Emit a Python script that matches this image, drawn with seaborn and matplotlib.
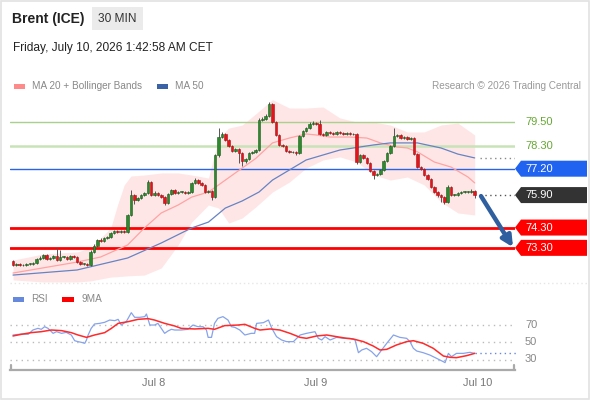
import matplotlib
matplotlib.use("Agg")
import matplotlib.pyplot as plt
from matplotlib.patches import Polygon, Rectangle
import seaborn as sns

# ---- data (30 min candles, Brent ICE) ----
closes = [
    72.45, 72.50, 72.45, 72.45, 72.50, 72.50, 72.55, 72.75, 72.80, 72.95,
    72.75, 72.80, 72.90, 72.70, 72.85, 72.85, 72.75, 72.90, 72.85, 72.60,
    72.50, 72.50, 72.45, 73.10, 73.40, 73.70, 73.65, 73.80, 73.85, 74.05,
    74.15, 74.10, 74.15, 74.10, 74.90, 75.90, 75.65, 75.75, 75.90, 76.00,
    76.55, 75.90, 76.00, 75.90, 75.80, 75.50, 75.95, 76.15, 76.00, 76.05,
    76.05, 76.00, 76.05, 76.50, 76.65, 76.50, 76.40, 76.05, 76.10, 75.80,
    77.85, 78.75, 78.90, 78.60, 78.30, 78.05, 78.15, 77.95, 77.60, 77.70,
    77.95, 78.00, 78.10, 79.60, 79.65, 79.80, 80.40, 79.50, 78.85, 78.35,
    78.30, 78.05, 78.00, 78.00, 77.95, 78.80, 79.05, 79.20, 79.40, 79.45,
    79.40, 78.90, 78.85, 79.00, 78.95, 78.90, 79.00, 78.95, 78.90, 78.95,
    78.90, 78.90, 77.55, 77.85, 77.75, 77.50, 77.10, 76.90, 76.95, 77.15,
    77.60, 77.95, 78.30, 78.80, 78.85, 78.70, 78.75, 78.65, 78.70, 77.90,
    77.30, 77.20, 76.90, 76.70, 76.30, 76.05, 75.90, 75.80, 75.55, 76.30,
    75.90, 75.90, 76.00, 76.05, 76.05, 76.05, 76.10, 75.90,
]
first_open = 72.65
upper_wick = [
    .05, .05, .05, .05, .05, .05, .05, .05, .08, .05,
    .05, .05, .05, .40, .35, .05, .05, .05, .05, .05,
    .05, .05, .05, .08, .10, .05, .08, .05, .05, .05,
    .05, .05, .05, .05, .05, .25, .05, .08, .05, .05,
    .10, .05, .08, .05, .05, .05, .05, .05, .05, .05,
    .05, .05, .05, .05, .08, .05, .05, .05, .05, .05,
    .05, .45, .10, .05, .05, .05, .05, .05, .05, .05,
    .05, .05, .05, .10, .08, .10, .10, .05, .05, .05,
    .05, .05, .05, .05, .05, .05, .05, .05, .08, .10,
    .05, .20, .08, .05, .05, .05, .05, .05, .05, .05,
    .05, .05, .05, .05, .05, .05, .05, .05, .05, .05,
    .05, .05, .05, .40, .05, .05, .05, .05, .05, .05,
    .05, .05, .05, .05, .05, .05, .05, .05, .05, .10,
    .05, .05, .05, .05, .05, .05, .10, .05,
]
lower_wick = [
    .05, .05, .05, .05, .05, .05, .05, .05, .05, .05,
    .05, .05, .05, .05, .05, .05, .05, .05, .05, .05,
    .05, .05, .05, .05, .05, .05, .05, .05, .05, .05,
    .05, .05, .05, .05, .05, .05, .20, .05, .05, .05,
    .05, .05, .05, .05, .05, .10, .05, .05, .05, .05,
    .05, .05, .05, .05, .05, .05, .05, .05, .05, .12,
    .05, .05, .05, .05, .05, .05, .05, .45, .25, .10,
    .05, .05, .05, .05, .05, .05, .05, .05, .05, .05,
    .05, .05, .05, .05, .10, .05, .05, .05, .05, .05,
    .05, .05, .05, .05, .05, .05, .05, .05, .05, .05,
    .05, .05, .10, .05, .05, .05, .05, .20, .05, .05,
    .05, .05, .05, .05, .05, .05, .05, .05, .05, .05,
    .05, .05, .05, .05, .05, .05, .10, .25, .10, .05,
    .05, .05, .05, .05, .05, .05, .05, .15,
]

# bollinger band / moving averages at candle index
band_idx = [0, 9, 19, 23, 29, 31, 33, 35, 39, 44, 49, 53, 58, 61, 64, 68,
            72, 77, 82, 87, 92, 97, 102, 107, 112, 117, 122, 127, 132, 137]
band_up = [72.70, 73.00, 73.10, 73.29, 74.28, 75.41, 76.40, 76.84, 76.89,
           76.99, 76.99, 76.89, 76.74, 78.71, 79.20, 79.35, 79.90, 80.60,
           80.19, 80.19, 80.24, 79.70, 79.50, 79.50, 79.35, 79.01, 79.01,
           79.35, 79.45, 78.86]
band_lo = [71.72, 71.62, 71.62, 71.67, 71.86, 71.88, 71.91, 71.93, 71.96,
           72.31, 73.44, 74.57, 75.41, 75.26, 74.52, 74.77, 75.31, 76.05,
           76.54, 77.23, 77.63, 77.78, 77.53, 76.89, 76.64, 76.79, 76.40,
           75.56, 75.02, 74.92]
ma20_idx = [0, 19, 26, 34, 39, 44, 49, 53, 58, 61, 68, 72, 77, 82, 87, 90,
            94, 100, 105, 109, 114, 117, 120, 125, 130, 135, 137]
ma20_val = [72.06, 72.60, 72.85, 73.44, 74.28, 75.02, 75.41, 75.80, 76.05,
            76.40, 77.23, 77.70, 78.47, 78.71, 78.91, 78.86, 78.76, 78.76,
            78.71, 78.47, 78.27, 78.22, 78.03, 77.53, 77.28, 76.79, 76.50]
ma50_idx = [0, 19, 34, 44, 53, 58, 63, 68, 73, 77, 87, 97, 107, 112, 120,
            127, 132, 137]
ma50_val = [71.96, 72.21, 72.80, 73.54, 74.28, 74.57, 75.26, 75.61, 76.05,
            76.64, 77.63, 78.12, 78.37, 78.47, 78.47, 78.22, 77.92, 77.73]

# RSI and its 9 period MA
rsi_idx = [0, 2.5, 4.5, 5.9, 7.4, 8.4, 9.4, 10.4, 11.9, 12.9, 14.4, 15.8,
           17.3, 18.3, 19.3, 20.3, 21.3, 21.8, 22.3, 23.2, 24.2, 25.7, 27.2,
           28.7, 30.2, 31.2, 32.1, 33.6, 35.1, 36.1, 37.6, 39.1, 39.6, 40.6,
           42.0, 43.0, 44.0, 45.0, 46.0, 47.0, 48.0, 49.9, 51.9, 53.4, 54.9,
           56.4, 57.4, 57.9, 58.9, 59.8, 60.8, 62.3, 63.8, 64.8, 65.8, 67.3,
           68.8, 70.7, 71.7, 72.3, 74.3, 75.8, 76.8, 78.2, 79.7, 81.2, 83.2,
           85.2, 87.1, 89.6, 90.6, 91.6, 92.6, 94.1, 96.0, 98.0, 100.0,
           101.5, 102.5, 103.5, 104.9, 106.4, 107.9, 109.4, 110.9, 112.9,
           114.8, 116.8, 117.8, 118.8, 119.8, 121.7, 123.7, 125.7, 127.7,
           128.2, 129.2, 130.1, 131.6, 133.6, 135.6, 137.0]
rsi_val = [58.0, 59.1, 58.8, 63.7, 65.6, 64.5, 67.5, 65.6, 59.9, 61.8, 59.9,
           61.0, 58.0, 51.5, 50.4, 49.6, 48.5, 52.3, 58.0, 65.6, 70.6, 71.3,
           72.5, 75.1, 74.4, 75.9, 69.4, 73.2, 83.5, 78.2, 78.2, 79.0, 82.0,
           69.4, 69.4, 71.3, 65.6, 59.9, 62.6, 64.5, 63.7, 63.7, 64.5, 69.4,
           67.5, 67.5, 63.7, 55.3, 55.3, 71.3, 77.0, 79.0, 75.1, 67.5, 66.8,
           63.7, 58.0, 59.9, 59.9, 71.3, 72.1, 75.1, 65.6, 56.1, 52.3, 50.4,
           50.4, 58.0, 59.9, 61.8, 54.2, 52.3, 56.1, 52.3, 55.3, 54.2, 54.2,
           52.3, 37.8, 40.9, 42.8, 39.0, 33.2, 40.9, 48.5, 58.0, 55.3, 54.2,
           50.4, 42.8, 39.7, 37.8, 35.1, 31.3, 27.5, 26.4, 37.0, 33.2, 37.0,
           37.0, 38.2, 37.0]
rsi_ma_idx = [0, 2.5, 5.4, 8.4, 11.4, 14.4, 17.3, 19.3, 21.8, 24.2, 27.2,
              29.2, 31.2, 34.1, 37.1, 40.1, 42.0, 45.0, 48.0, 49.9, 53.9,
              57.9, 59.8, 62.8, 66.8, 68.8, 71.7, 73.3, 76.3, 79.2, 82.2,
              85.2, 87.1, 90.1, 93.1, 96.0, 99.0, 101.0, 104.0, 106.9, 108.9,
              110.9, 113.8, 116.8, 118.8, 121.7, 124.7, 127.7, 129.7, 131.6,
              134.6, 137.0]
rsi_ma_val = [56.9, 58.8, 60.7, 61.8, 63.7, 63.0, 60.7, 58.0, 55.3, 58.0,
              60.7, 65.6, 71.3, 73.2, 75.9, 76.7, 75.1, 71.3, 68.3, 65.6,
              64.9, 65.6, 64.5, 68.7, 69.4, 70.2, 65.6, 63.7, 64.9, 63.7,
              59.9, 55.3, 54.2, 56.9, 58.0, 56.1, 54.2, 53.4, 50.4, 45.4,
              40.9, 41.6, 46.6, 50.4, 51.5, 48.5, 42.8, 34.0, 32.5, 32.1,
              34.4, 37.0]
rsi_levels = [70, 50, 30]

levels = [79.50, 78.30, 77.20, 74.30, 73.30]
level_kind = ["res", "res", "pivot", "sup", "sup"]
last_price = 75.90
target = 73.30
day_labels = ["Jul 8", "Jul 9", "Jul 10"]
day_pos = [41.8, 89.8, 137.8]

# ---- styling ----
sns.set_theme(style="white")
plt.rcParams["font.family"] = ["Liberation Sans", "DejaVu Sans"]

W, H = 590, 400
fig = plt.figure(figsize=(W / 100, H / 100), dpi=100)
fig.patch.set_facecolor("white")

def box(x0, y0, x1, y1):
    return [x0 / W, 1 - y1 / H, (x1 - x0) / W, (y1 - y0) / H]

# pixel <-> data helpers for the main panel
step = 3.37
def xd(px):
    return (px - 13) / step

ax = fig.add_axes(box(10, 95, 515, 283))
ax.set_xlim(xd(10), xd(515))
ax.set_ylim(79.5 - (283 - 122) / 20.3, 79.5 - (95 - 122) / 20.3)
ax.axis("off")
ax.patch.set_alpha(0)

# bollinger band
ax.fill_between(band_idx, band_lo, band_up, color="#ffe6e6", lw=0, zorder=1)

# support / resistance lines
line_style = {"pivot": ("#2a62e8", 1.0), "sup": ("#ff0000", 2.0)}
for v, k in zip(levels, level_kind):
    if k == "res":
        col, lw = ("#a9d18e", 1.0) if v == levels[0] else ("#c9e3b8", 1.8)
    else:
        col, lw = line_style[k]
    ax.axhline(v, color=col, lw=lw, zorder=2)

sns.lineplot(x=ma20_idx, y=ma20_val, ax=ax, color="#ffa3a3", lw=0.9, zorder=3)
sns.lineplot(x=ma50_idx, y=ma50_val, ax=ax, color="#6683c4", lw=0.9, zorder=3)

# candles
opens = [first_open] + closes[:-1]
idx = list(range(len(closes)))
for i, o, c, uw, lw_ in zip(idx, opens, closes, upper_wick, lower_wick):
    hi = max(o, c) + uw
    lo = min(o, c) - lw_
    ax.vlines(i, lo, hi, color="#555555", lw=0.7, zorder=4)
    up = c >= o
    ax.bar(i, max(abs(c - o), 0.03), bottom=min(o, c), width=0.75,
           color="#2b8a2b" if up else "#e5141c",
           edgecolor="#1d5a1d" if up else "#a81010", lw=0.4, zorder=5)

# dotted guides to the right scale
ax.plot([xd(480), xd(515)], [ma50_val[-1]] * 2, ls=(0, (1, 2.5)),
        color="#888888", lw=1, zorder=3)
ax.plot([xd(480), xd(515)], [last_price] * 2, ls=(0, (1, 2.5)),
        color="#555555", lw=1, zorder=3)

# forecast arrow
ax.annotate("", xy=(xd(513), target + 0.03), xytext=(xd(481), last_price - 0.05),
            arrowprops=dict(arrowstyle="-|>", color="#2f5f9f", lw=3.2,
                            mutation_scale=16, shrinkA=0, shrinkB=0),
            annotation_clip=False, zorder=6)

# right hand price labels
hh = 8 / 20.3
box_col = {"pivot": "#1f63f0", "sup": "#ff0000", "last": "#333333"}
tags = list(zip(levels, level_kind)) + [(last_price, "last")]
for v, k in tags:
    txt = f"{v:.2f}"
    if k == "res":
        ax.text(xd(525), v, txt, color="#66a832", fontsize=8, va="center",
                ha="left", clip_on=False)
        continue
    verts = [(xd(515), v), (xd(521), v + hh), (xd(587), v + hh),
             (xd(587), v - hh), (xd(521), v - hh)]
    ax.add_patch(Polygon(verts, closed=True, color=box_col[k], lw=0,
                         clip_on=False, zorder=7))
    ax.text(xd(525), v, txt, color="white", fontsize=8, va="center",
            ha="left", clip_on=False, zorder=8)

# ---- RSI panel ----
rx = fig.add_axes(box(10, 310, 515, 370))
rx.set_xlim(xd(10), xd(515))
rx.set_ylim(50 - (370 - 342) / 0.875, 50 + (342 - 310) / 0.875)
rx.patch.set_alpha(0)
for s in ["top", "left", "right"]:
    rx.spines[s].set_visible(False)
rx.spines["bottom"].set_color("#aaaaaa")
rx.spines["bottom"].set_linewidth(1.6)
rx.set_yticks([])
rx.set_xticks(day_pos)
rx.set_xticklabels(day_labels, fontsize=7.9, color="#777777")
rx.tick_params(axis="x", length=0, pad=6)

for lv in rsi_levels:
    rx.axhline(lv, color="#bbbbbb", lw=1, ls=(0, (1, 3)), zorder=1)
    rx.text(xd(525), lv, str(lv), color="#888888", fontsize=8, va="center",
            ha="left", clip_on=False)
sns.lineplot(x=rsi_idx, y=rsi_val, ax=rx, color="#86a3ea", lw=0.9, zorder=3)
sns.lineplot(x=rsi_ma_idx, y=rsi_ma_val, ax=rx, color="#ff2a2a", lw=1.1,
             zorder=4)
rx.plot([rsi_idx[-1], xd(517)], [rsi_val[-1]] * 2, ls=(0, (1, 2.5)),
        color="#6688dd", lw=1, clip_on=False)
rx.set_xlabel("")
rx.set_ylabel("")

# ---- overlay: header, legends, frame ----
ov = fig.add_axes([0, 0, 1, 1])
ov.set_xlim(0, W)
ov.set_ylim(H, 0)
ov.axis("off")
ov.patch.set_alpha(0)

ov.add_patch(Rectangle((0.5, 0.5), W - 1.5, H - 2, fill=False,
                       edgecolor="#e2e2e2", lw=1.2))
ov.text(12, 18.5, "Brent (ICE)", fontsize=10, fontweight="bold",
        color="#222222", va="center", ha="left")
ov.add_patch(Rectangle((92, 7), 51, 23, color="#ebebeb", lw=0))
ov.text(117.5, 18.5, "30 MIN", fontsize=8.6, color="#333333",
        va="center", ha="center")
ov.text(13, 48, "Friday, July 10, 2026 1:42:58 AM CET", fontsize=8.6,
        color="#222222", va="center", ha="left")

ov.add_patch(Rectangle((14, 83.5), 11, 5, color="#ff8a8a", lw=0))
ov.text(32, 86, "MA 20 + Bollinger Bands", fontsize=7.2, color="#888888",
        va="center", ha="left")
ov.add_patch(Rectangle((157, 83.5), 11, 5, color="#3b62a6", lw=0))
ov.text(175, 86, "MA 50", fontsize=7.2, color="#888888", va="center",
        ha="left")
ov.text(581, 86, "Research \u00a9 2026 Trading Central", fontsize=7.2,
        color="#999999", va="center", ha="right")

ov.plot([10, 590], [283, 283], ls=(0, (1, 2)), color="#e6e6e6", lw=1)

ov.add_patch(Rectangle((13, 296.5), 11, 5, color="#6688dd", lw=0))
ov.text(31, 299, "RSI", fontsize=7.2, color="#888888", va="center",
        ha="left")
ov.add_patch(Rectangle((62, 296.5), 12, 5, color="#ff0000", lw=0))
ov.text(81, 299, "9MA", fontsize=7.2, color="#888888", va="center",
        ha="left")

# end ticks of the time bracket
for xe in (10.8, 514.2):
    ov.plot([xe, xe], [364.5, 370], color="#aaaaaa", lw=1.6)

fig.savefig("out.png", dpi=100)
